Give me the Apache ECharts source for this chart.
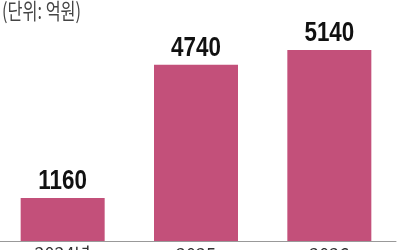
<!DOCTYPE html>
<html>
<head>
<meta charset="utf-8">
<script src="https://cdn.jsdelivr.net/npm/echarts@6/dist/echarts.min.js"></script>
<style>
html,body{margin:0;padding:0;background:#fff;}
#c{width:400px;height:250px;}
</style>
</head>
<body>
<div id="c"></div>
<script>
const categories = ['2024년', '2025', '2026'];
const values = [1160, 4740, 5140];
const unitText = '(단위: 억원)';

const chart = echarts.init(document.getElementById('c'), null, {renderer: 'canvas'});
chart.setOption({
  animation: false,
  backgroundColor: '#fff',
  grid: {left: -4, right: 4, top: 18, bottom: 9, containLabel: false, outerBoundsMode: 'none'},
  xAxis: {
    type: 'category',
    data: categories,
    axisLine: {show: true, lineStyle: {color: '#999', width: 1}},
    axisTick: {show: false},
    axisLabel: {
      margin: 4,
      fontSize: 18,
      color: '#333',
      fontFamily: '"Noto Sans CJK KR", sans-serif'
    }
  },
  yAxis: {
    type: 'value',
    min: 0,
    max: 6000,
    show: false,
    splitLine: {show: false}
  },
  series: [{
    type: 'bar',
    data: values,
    barWidth: 84,
    itemStyle: {color: '#c3507a'},
    label: {show: false}
  }, {
    type: 'custom',
    data: values.map((v, i) => [i, v]),
    z: 5,
    renderItem: function (params, api) {
      const p = api.coord([api.value(0), api.value(1)]);
      return {
        type: 'text',
        x: p[0],
        y: p[1] - 3,
        scaleX: 0.8,
        style: {
          text: String(api.value(1)),
          fontSize: 28,
          fontWeight: 'bold',
          fontFamily: '"Liberation Sans", Arial, sans-serif',
          fill: '#111',
          align: 'center',
          verticalAlign: 'bottom'
        }
      };
    }
  }],
  graphic: [{
    type: 'text',
    left: 2,
    top: 0,
    scaleX: 0.74,
    style: {
      text: unitText,
      fontSize: 22,
      fill: '#444',
      fontFamily: '"Noto Sans CJK KR", sans-serif'
    }
  }]
});
</script>
</body>
</html>
